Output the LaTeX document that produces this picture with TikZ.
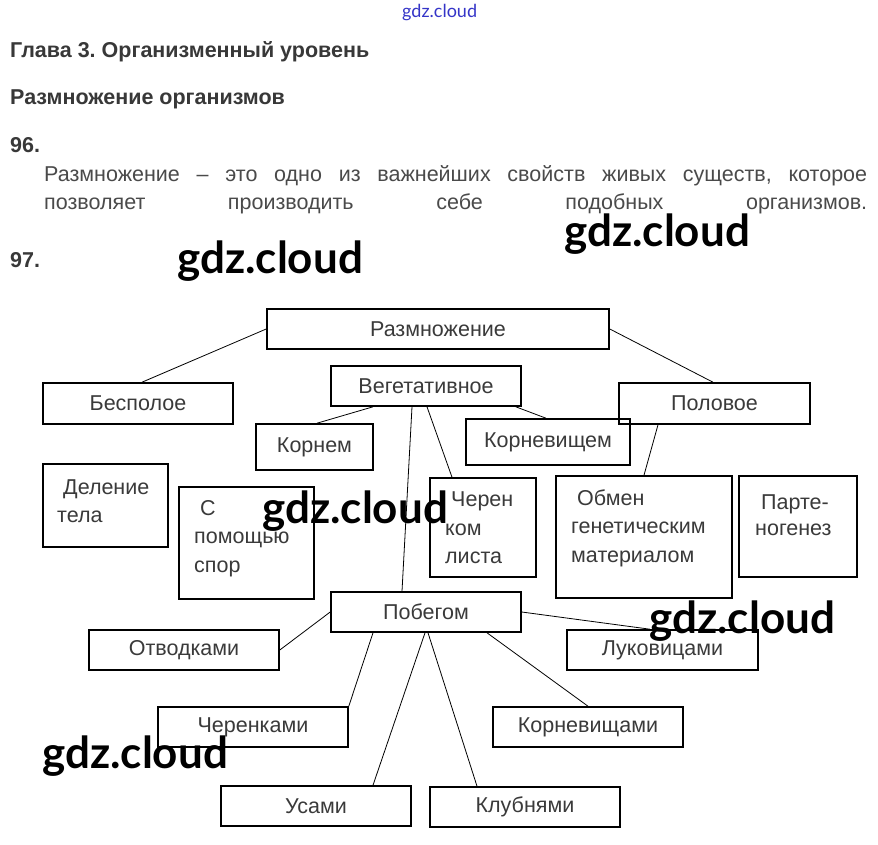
\documentclass[tikz,border=0pt]{standalone}
\usepackage{fontspec}
\setmainfont{Liberation Sans}
\newfontfamily\wmfont{Lato}
\frenchspacing
\definecolor{txt}{HTML}{3A3A3A}
\definecolor{head}{HTML}{383838}
\definecolor{para}{HTML}{4A4A4A}
\definecolor{wmblue}{HTML}{3535C8}
\begin{document}
\begin{tikzpicture}[x=1pt,y=-1pt,
  box/.style={draw=black,line width=1.6pt,rectangle,inner sep=0pt,
    font=\fontsize{21.5}{26}\selectfont,text=txt},
  lbl/.style={inner sep=0pt,anchor=base west,font=\fontsize{21.5}{26}\selectfont,text=txt},
  conn/.style={draw=black,line width=0.8pt},
  headtxt/.style={inner sep=0pt,anchor=base west,font=\fontsize{21.5}{26}\selectfont\bfseries,text=head},
  paratxt/.style={inner sep=0pt,anchor=base west,font=\fontsize{21.5}{26}\selectfont,text=para},
  wm/.style={inner sep=0pt,anchor=base west,font=\fontsize{44}{50}\selectfont\wmfont\bfseries,text=black}]
\useasboundingbox[fill=white] (0,0) rectangle (878,844);

% headings and text
\node[inner sep=0pt,anchor=base west,font=\fontsize{18}{20}\selectfont\wmfont,text=wmblue] (wm0) at (402,17) {gdz.cloud};
\node[headtxt] (h1) at (10,57) {Глава 3. Организменный уровень};
\node[headtxt] (h2) at (10,104) {Размножение организмов};
\node[headtxt] (n96) at (10,152) {96.};
\node[paratxt] (p1) at (44,181) {\makebox[823pt][s]{Размножение – это одно из важнейших свойств живых существ, которое}};
\node[paratxt] (p2) at (44,209) {\makebox[823pt][s]{позволяет производить себе подобных организмов.}};
\node[headtxt] (n97) at (10,267) {97.};

% boxes
\node[box,minimum width=342pt,minimum height=40pt] (razm) at (438,329) {Размножение};
\node[box,minimum width=190pt,minimum height=40pt] (veg) at (426,386) {Вегетативное};
\node[box,minimum width=190pt,minimum height=41pt] (besp) at (138,403.5) {Бесполое};
\node[box,minimum width=191pt,minimum height=41pt] (polov) at (714.5,403.5) {Половое};
\node[box,minimum width=117pt,minimum height=46pt] (kornem) at (314.5,447) {Корнем};
\node[box,minimum width=164pt,minimum height=46pt] (kornev) at (548,442) {Корневищем};
\node[box,minimum width=125pt,minimum height=83pt] (delen) at (105.5,505.5) {};
\node[box,minimum width=135pt,minimum height=112pt] (spor) at (246.5,543) {};
\node[box,minimum width=106pt,minimum height=99pt] (cher) at (483,527.5) {};
\node[box,minimum width=176pt,minimum height=122pt] (obmen) at (644,537) {};
\node[box,minimum width=118pt,minimum height=101pt] (parten) at (798,526.5) {};
\node[box,minimum width=190pt,minimum height=40pt] (pobeg) at (426,612) {Побегом};
\node[box,minimum width=190pt,minimum height=40pt] (otvod) at (184,650) {Отводками};
\node[box,minimum width=190pt,minimum height=40pt] (cherenk) at (253,727) {Черенками};
\node[box,minimum width=190pt,minimum height=40pt] (usami) at (316,806) {Усами};
\node[box,minimum width=190pt,minimum height=40pt] (klub) at (525,807) {Клубнями};
\node[box,minimum width=190pt,minimum height=40pt] (kornevsh) at (588,727) {Корневищами};
\node[box,minimum width=191pt,minimum height=40pt] (lukov) at (662.5,650) {Луковицами};

% multi-line labels
\node[lbl] (delen1) at (63,494) {Деление};
\node[lbl] (delen2) at (57,522) {тела};
\node[lbl] (spor1) at (200,515) {С};
\node[lbl] (spor2) at (194,543) {помощью};
\node[lbl] (spor3) at (194,572) {спор};
\node[lbl] (cher1) at (451,506) {Черен};
\node[lbl] (cher2) at (445,535) {ком};
\node[lbl] (cher3) at (445,563) {листа};
\node[lbl] (obmen1) at (577,505) {Обмен};
\node[lbl] (obmen2) at (571,533) {генетическим};
\node[lbl] (obmen3) at (571,562) {материалом};
\node[lbl] (parten1) at (761,509) {Парте-};
\node[lbl] (parten2) at (755,535) {ногенез};

% connectors
\draw[conn] (razm.west) -- ([xshift=4pt]besp.north);
\draw[conn] (razm.east) -- ([xshift=-1.5pt]polov.north);
\draw[conn] ([xshift=-53pt]veg.south) -- ([xshift=2.5pt]kornem.north);
\draw[conn] ([xshift=-6pt]veg.south east) -- ([xshift=-2pt]kornev.north);
\draw[conn] ([xshift=1pt]veg.south) -- ([xshift=-31pt]cher.north);
\draw[conn] ([xshift=-14pt]veg.south) -- ([xshift=-24pt]pobeg.north);
\draw[conn] ([xshift=-56.5pt]polov.south) -- (obmen.north);
\draw[conn] (pobeg.west) -- (otvod.east);
\draw[conn] ([xshift=-53pt]pobeg.south) -- (cherenk.north east);
\draw[conn] ([xshift=-1pt]pobeg.south) -- ([xshift=57pt]usami.north);
\draw[conn] ([xshift=2pt]pobeg.south) -- ([xshift=-48pt]klub.north);
\draw[conn] ([xshift=61pt]pobeg.south) -- (kornevsh.north);
\draw[conn] (pobeg.east) -- ([xshift=-12.5pt]lukov.north);

% watermarks
\node[wm] (wm1) at (177,273) {gdz.cloud};
\node[wm] (wm2) at (564,246) {gdz.cloud};
\node[wm] (wm3) at (262,523) {gdz.cloud};
\node[wm] (wm4) at (649,633) {gdz.cloud};
\node[wm] (wm5) at (42,768) {gdz.cloud};
\end{tikzpicture}
\end{document}
